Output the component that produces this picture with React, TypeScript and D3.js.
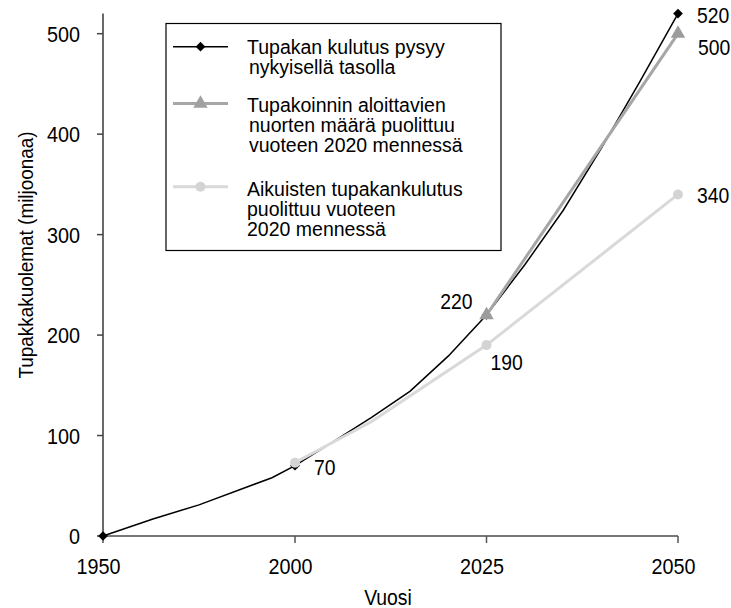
import React, { useEffect, useRef } from 'react';
import * as d3 from 'd3';

// x axis is categorical in the original (equal spacing for 1950, 2000, 2025, 2050)
const xTicks = [1950, 2000, 2025, 2050];
const yTicks = [0, 100, 200, 300, 400, 500];

// Tupakan kulutus pysyy nykyisellä tasolla
const currentYears = [1950, 1963, 1975, 1994, 2000, 2005, 2010, 2015, 2020, 2025, 2030, 2035, 2040, 2045, 2050];
const currentDeaths = [0, 17, 31, 58, 70, 94, 118, 144, 179, 220, 270, 324, 386, 452, 520];
const currentMarkers = [1950, 2000, 2025, 2050];

// Tupakoinnin aloittavien nuorten määrä puolittuu
const youthYears = [2025, 2050];
const youthDeaths = [220, 500];

// Aikuisten tupakankulutus puolittuu
const adultYears = [2000, 2010, 2025, 2050];
const adultDeaths = [73, 114, 190, 340];
const adultMarkers = [2000, 2025, 2050];

const labelTexts = ['70', '220', '190', '520', '500', '340'];
const labelYears = [2000, 2025, 2025, 2050, 2050, 2050];
const labelValues = [70, 220, 190, 520, 500, 340];

const legendLabels = [
  ['Tupakan kulutus pysyy', ' nykyisellä tasolla'],
  ['Tupakoinnin aloittavien', ' nuorten määrä puolittuu', ' vuoteen 2020 mennessä'],
  ['Aikuisten tupakankulutus', 'puolittuu vuoteen', '2020 mennessä'],
];

const FONT = '"Liberation Sans", Arial, sans-serif';

export default function App() {
  const svgRef = useRef<SVGSVGElement>(null);

  useEffect(() => {
    if (!svgRef.current) return;
    const svg = d3.select(svgRef.current);
    svg.selectAll('*').remove();

    const x = d3.scaleLinear().domain(xTicks).range([103, 295, 486.5, 678]);
    const y = d3.scaleLinear().domain([0, 520]).range([536, 13.6]);

    // condensed text, the original font is a bit narrow
    const ctext = (
      g: d3.Selection<any, unknown, null, undefined>,
      tx: number, ty: number, txt: string,
      anchor = 'start', size = 22, rot = 0,
    ) => {
      g.append('g')
        .attr('transform', `translate(${tx},${ty}) rotate(${rot}) scale(0.9,1)`)
        .append('text')
        .attr('text-anchor', anchor)
        .attr('font-size', size)
        .attr('font-family', FONT)
        .attr('fill', '#000')
        .text(txt);
    };

    // Axes
    const axes = svg.append('g');
    axes.append('line')
      .attr('x1', x(1950)).attr('x2', x(2050))
      .attr('y1', y(0)).attr('y2', y(0))
      .attr('stroke', '#777').attr('stroke-width', 2);
    xTicks.forEach(t => {
      axes.append('line')
        .attr('x1', x(t)).attr('x2', x(t))
        .attr('y1', y(0)).attr('y2', y(0) + 7)
        .attr('stroke', '#555').attr('stroke-width', 1.5);
      ctext(axes, x(t) - 4.5, 573.5, String(t), 'middle');
    });
    axes.append('line')
      .attr('x1', x(1950)).attr('x2', x(1950))
      .attr('y1', y(0)).attr('y2', y(520))
      .attr('stroke', '#444').attr('stroke-width', 1.6);
    yTicks.forEach(t => {
      axes.append('line')
        .attr('x1', x(1950) - 6).attr('x2', x(1950))
        .attr('y1', y(t)).attr('y2', y(t))
        .attr('stroke', '#444').attr('stroke-width', 1.5);
      ctext(axes, 80, y(t) + 8, String(t), 'end');
    });
    ctext(axes, 33, 255, 'Tupakkakuolemat (miljoonaa)', 'middle', 21, -90);
    ctext(axes, 388, 605, 'Vuosi', 'middle', 21.5);

    const line = d3.line<[number, number]>()
      .x(d => x(d[0])).y(d => y(d[1]));

    const diamond = d3.symbol().type(d3.symbolDiamond2).size(60);
    const triangle = d3.symbol().type(d3.symbolTriangle).size(90);

    // Series 1 - black
    const s1 = d3.zip(currentYears, currentDeaths) as [number, number][];
    svg.append('path').attr('d', line(s1)!)
      .attr('fill', 'none').attr('stroke', '#000').attr('stroke-width', 1.5);
    s1.filter(d => currentMarkers.includes(d[0])).forEach(d => {
      svg.append('path').attr('d', diamond()!)
        .attr('transform', `translate(${x(d[0])},${y(d[1])})`)
        .attr('fill', '#000');
    });

    // Series 2 - mid grey
    const s2 = d3.zip(youthYears, youthDeaths) as [number, number][];
    svg.append('path').attr('d', line(s2)!)
      .attr('fill', 'none').attr('stroke', '#a6a6a6').attr('stroke-width', 3);
    s2.forEach(d => {
      svg.append('path').attr('d', triangle()!)
        .attr('transform', `translate(${x(d[0])},${y(d[1])})`)
        .attr('fill', '#9c9c9c');
    });

    // Series 3 - light grey
    const s3 = d3.zip(adultYears, adultDeaths) as [number, number][];
    svg.append('path').attr('d', line(s3)!)
      .attr('fill', 'none').attr('stroke', '#d9d9d9').attr('stroke-width', 3);
    s3.filter(d => adultMarkers.includes(d[0])).forEach(d => {
      svg.append('circle')
        .attr('cx', x(d[0])).attr('cy', y(d[1])).attr('r', 5)
        .attr('fill', '#d4d4d4');
    });

    // Data labels
    const labelOffsets: [number, number, string][] = [
      [19, 9.5, 'start'], [-14, -6, 'end'], [4, 25, 'start'],
      [19, 9.5, 'start'], [20, 21, 'start'], [19, 8.6, 'start'],
    ];
    labelTexts.forEach((txt, i) => {
      const [dx, dy, anchor] = labelOffsets[i];
      ctext(svg as any, x(labelYears[i]) + dx, y(labelValues[i]) + dy, txt, anchor, 21.5);
    });

    // Legend
    const lg = svg.append('g');
    lg.append('rect')
      .attr('x', 166).attr('y', 23.5).attr('width', 335).attr('height', 227)
      .attr('fill', '#fff').attr('stroke', '#000').attr('stroke-width', 1.2);
    const symY = [46.7, 103.5, 186.7];
    const textY = [54, 112, 196];
    const styles = [
      { stroke: '#000', width: 1.5 },
      { stroke: '#a6a6a6', width: 3 },
      { stroke: '#d9d9d9', width: 3 },
    ];
    legendLabels.forEach((lines, i) => {
      lg.append('line')
        .attr('x1', 173).attr('x2', 228)
        .attr('y1', symY[i]).attr('y2', symY[i])
        .attr('stroke', styles[i].stroke).attr('stroke-width', styles[i].width);
      if (i === 0) {
        lg.append('path').attr('d', diamond()!)
          .attr('transform', `translate(200.5,${symY[i]})`).attr('fill', '#000');
      } else if (i === 1) {
        lg.append('path').attr('d', triangle()!)
          .attr('transform', `translate(200.5,${symY[i]})`).attr('fill', '#a0a0a0');
      } else {
        lg.append('circle').attr('cx', 200.5).attr('cy', symY[i]).attr('r', 5)
          .attr('fill', '#d4d4d4');
      }
      lines.forEach((ln, j) => {
        lg.append('text')
          .attr('x', ln.startsWith(' ') ? 249 : 247)
          .attr('y', textY[i] + j * 20)
          .attr('font-size', 19.5)
          .attr('font-family', FONT)
          .attr('fill', '#000')
          .text(ln.trim());
      });
    });
  }, []);

  return (
    <svg
      ref={svgRef}
      width={731}
      height={608}
      style={{ position: 'absolute', left: 0, top: 0, background: '#fff' }}
    />
  );
}
